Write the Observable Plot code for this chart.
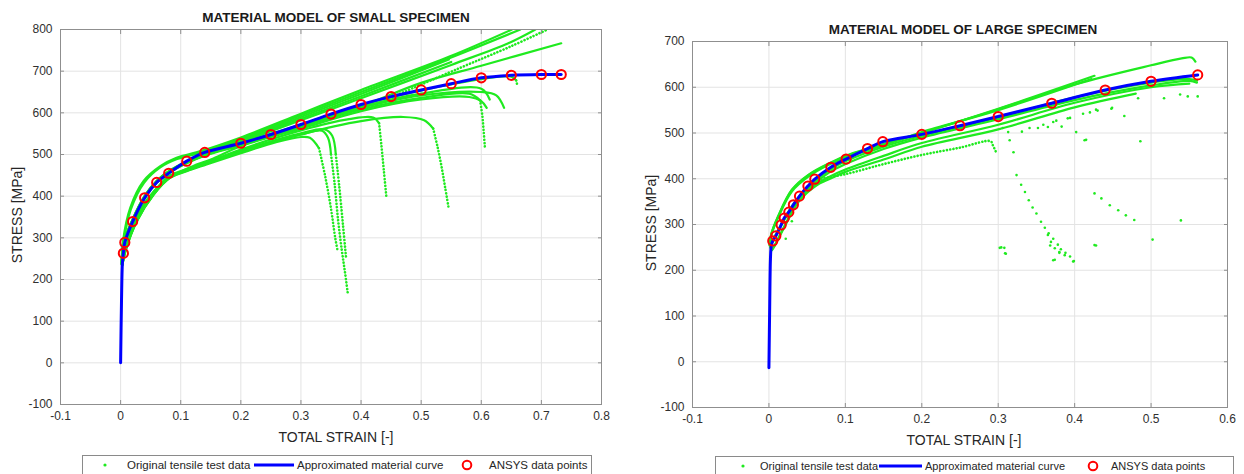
<!DOCTYPE html>
<html>
<head>
<meta charset="utf-8">
<script src="https://cdn.jsdelivr.net/npm/d3@7"></script>
<script src="https://cdn.jsdelivr.net/npm/@observablehq/plot@0.6"></script>
<style>
  html, body { margin: 0; padding: 0; background: #fff; }
  #page { position: relative; width: 1244px; height: 474px; overflow: hidden; font-family: "Liberation Sans", Arial, sans-serif; color: #262626; }
  .abs { position: absolute; }
  .t { position: absolute; transform: translate(-50%, -50%); white-space: nowrap; }
  .title { font-weight: bold; font-size: 13.5px; color: #1a1a1a; }
  .xlab { font-size: 14px; }
  .ylab { font-size: 14px; transform: translate(-50%, -50%) rotate(-90deg); }
  .legend { position: absolute; border: 1px solid #8a8a8a; background: #fff; height: 18px; font-size: 11.5px; }
  .legend > * { position: absolute; top: 0; }
  .legend span { line-height: 18px; white-space: nowrap; }
</style>
</head>
<body>
<div id="page">
  <div id="small" class="abs" style="left:0;top:0"></div>
  <div id="large" class="abs" style="left:620px;top:0"></div>

  <div class="t title" style="left:336px;top:17px">MATERIAL MODEL OF SMALL SPECIMEN</div>
  <div class="t title" style="left:963px;top:29px">MATERIAL MODEL OF LARGE SPECIMEN</div>
  <div class="t xlab" style="left:336px;top:437px">TOTAL STRAIN [-]</div>
  <div class="t xlab" style="left:964px;top:440px">TOTAL STRAIN [-]</div>
  <div class="t ylab" style="left:17px;top:215px">STRESS [MPa]</div>
  <div class="t ylab" style="left:651px;top:223px">STRESS [MPa]</div>

  <div class="legend" style="left:82px;top:455px;width:508px">
    <svg style="left:18px" width="8" height="18"><circle cx="4" cy="9" r="1.6" fill="#1fea1f"/></svg>
    <span style="left:44px">Original tensile test data</span>
    <svg style="left:171px" width="40" height="18"><line x1="0" y1="9" x2="40" y2="9" stroke="#0000ff" stroke-width="3"/></svg>
    <span style="left:214px">Approximated material curve</span>
    <svg style="left:377px" width="14" height="18"><circle cx="7" cy="9" r="4.3" fill="none" stroke="#ff0000" stroke-width="2"/></svg>
    <span style="left:406px">ANSYS data points</span>
  </div>
  <div class="legend" style="left:715px;top:456px;width:517px;font-size:11px">
    <svg style="left:23px" width="8" height="18"><circle cx="4" cy="9" r="1.6" fill="#1fea1f"/></svg>
    <span style="left:44px">Original tensile test data</span>
    <svg style="left:163px" width="43" height="18"><line x1="0" y1="9" x2="43" y2="9" stroke="#0000ff" stroke-width="3"/></svg>
    <span style="left:209px">Approximated material curve</span>
    <svg style="left:370px" width="14" height="18"><circle cx="7" cy="9" r="4.3" fill="none" stroke="#ff0000" stroke-width="2"/></svg>
    <span style="left:395px">ANSYS data points</span>
  </div>
</div>

<script>
// ---------- Small specimen ----------
const smallTicksX = [-0.1, 0, 0.1, 0.2, 0.3, 0.4, 0.5, 0.6, 0.7, 0.8];
const smallTicksY = [-100, 0, 100, 200, 300, 400, 500, 600, 700, 800];

const smallAnsysStrain = [0.0046, 0.007, 0.02, 0.04, 0.06, 0.08, 0.11, 0.14, 0.2, 0.25, 0.3, 0.35, 0.4, 0.45, 0.5, 0.55, 0.6, 0.65, 0.7, 0.733];
const smallAnsysStress = [263, 289, 339, 396, 433, 455, 484, 505, 527, 548, 572, 597, 620, 639, 655, 670, 684, 690, 692, 692];

const smallCurveStrain = [0, 0.0015, 0.003];
const smallCurveStress = [0, 150, 240];

// tensile test records (solid parts)
const smallTests = [
  [[0.002,242],[0.004,292],[0.016,372],[0.038,436],[0.066,472],[0.093,492],[0.126,505],[0.2,541],[0.3,598],[0.4,655],[0.547,735],[0.651,800]],
  [[0.002,240],[0.005,290],[0.017,368],[0.039,432],[0.066,469],[0.094,489],[0.13,503],[0.2,538],[0.3,594],[0.4,650],[0.55,733],[0.665,800]],
  [[0.002,238],[0.005,286],[0.02,345],[0.04,401],[0.06,437],[0.08,460],[0.11,484],[0.14,502],[0.2,535],[0.3,590],[0.4,645],[0.546,728]],
  [[0.002,236],[0.005,285],[0.02,342],[0.04,398],[0.06,435],[0.08,458],[0.11,482],[0.14,500],[0.2,533],[0.3,586],[0.4,640],[0.55,722]],
  [[0.002,238],[0.005,287],[0.02,344],[0.04,400],[0.06,436],[0.08,459],[0.11,482],[0.14,500],[0.2,530],[0.3,582],[0.4,635],[0.55,715],[0.645,767],[0.69,800]],
  [[0.002,236],[0.005,284],[0.02,341],[0.04,397],[0.06,434],[0.08,457],[0.11,480],[0.14,498],[0.2,526],[0.3,570],[0.4,616],[0.5,672],[0.6,713],[0.733,767]],
  [[0.002,237],[0.005,286],[0.02,343],[0.04,399],[0.06,436],[0.08,459],[0.11,483],[0.14,503],[0.2,528],[0.3,572],[0.4,619],[0.5,654],[0.6,681],[0.65,687],[0.658,678]],
  [[0.002,235],[0.005,283],[0.02,340],[0.04,395],[0.06,432],[0.08,455],[0.11,479],[0.14,497],[0.2,522],[0.3,566],[0.4,608],[0.5,636],[0.58,646],[0.598,630]],
  [[0.003,236],[0.006,280],[0.022,338],[0.045,394],[0.07,432],[0.09,452],[0.12,472],[0.15,488],[0.2,520],[0.3,562],[0.4,604],[0.5,632],[0.58,638],[0.6,628],[0.609,612]],
  [[0.002,236],[0.005,284],[0.02,341],[0.04,397],[0.06,434],[0.08,457],[0.11,480],[0.14,498],[0.2,524],[0.3,568],[0.4,612],[0.5,642],[0.6,650],[0.625,642],[0.638,612]],
  [[0.002,237],[0.005,285],[0.02,342],[0.04,398],[0.06,435],[0.08,458],[0.11,481],[0.14,499],[0.2,526],[0.3,570],[0.4,614],[0.5,646],[0.6,658],[0.614,632]],
  [[0.003,235],[0.008,268],[0.027,340],[0.055,404],[0.082,444],[0.11,460],[0.143,476],[0.2,503],[0.26,530],[0.3,542],[0.315,540],[0.33,515]],
  [[0.003,236],[0.008,270],[0.027,342],[0.055,406],[0.082,446],[0.11,462],[0.143,478],[0.2,507],[0.3,548],[0.335,557],[0.345,540],[0.35,500]],
  [[0.003,237],[0.008,272],[0.026,344],[0.054,408],[0.08,448],[0.11,465],[0.143,480],[0.2,509],[0.3,551],[0.34,560],[0.352,545],[0.358,500]],
  [[0.003,236],[0.008,270],[0.027,341],[0.055,405],[0.082,445],[0.11,463],[0.143,481],[0.2,512],[0.3,558],[0.38,585],[0.42,589],[0.43,575]],
  [[0.003,235],[0.008,269],[0.027,340],[0.055,404],[0.082,444],[0.11,461],[0.143,478],[0.2,506],[0.3,548],[0.4,580],[0.47,590],[0.505,582],[0.52,562]]
];

// sparsely sampled parts of the records (fracture tails, one coarse record)
const smallSparse = [
  [[0.46,643],[0.56,705],[0.65,760],[0.71,800]],
  [[0.598,630],[0.602,590],[0.604,555],[0.606,517]],
  [[0.658,678],[0.66,666]],
  [[0.33,515],[0.34,450],[0.35,370],[0.357,300],[0.361,269]],
  [[0.35,500],[0.356,430],[0.362,340],[0.368,270],[0.373,220],[0.378,166]],
  [[0.358,500],[0.364,420],[0.37,330],[0.375,253]],
  [[0.43,575],[0.434,520],[0.438,460],[0.442,400]],
  [[0.52,562],[0.527,520],[0.534,470],[0.54,420],[0.546,369]]
];

// ---------- Large specimen ----------
const largeTicksX = [-0.1, 0, 0.1, 0.2, 0.3, 0.4, 0.5, 0.6];
const largeTicksY = [-100, 0, 100, 200, 300, 400, 500, 600, 700];

const largeAnsysStrain = [0.005, 0.009, 0.016, 0.02, 0.026, 0.032, 0.04, 0.051, 0.06, 0.081, 0.101, 0.129, 0.149, 0.2, 0.25, 0.3, 0.37, 0.44, 0.5, 0.561];
const largeAnsysStress = [264, 275, 299, 314, 327, 343, 362, 384, 399, 425, 443, 466, 481, 497, 516, 536, 565, 594, 613, 627];

const largeCurveStrain = [0, 0.001, 0.002, 0.003];
const largeCurveStress = [-13, 120, 225, 252];

const largeTests = [
  [[0.001,255],[0.003,278],[0.012,317],[0.03,375],[0.052,408],[0.079,433],[0.11,455],[0.146,473],[0.2,500],[0.3,552],[0.4,606],[0.5,648],[0.54,663],[0.553,665],[0.558,656]],
  [[0.001,254],[0.003,276],[0.012,315],[0.03,372],[0.052,405],[0.079,431],[0.11,452],[0.146,471],[0.2,502],[0.3,550],[0.422,618]],
  [[0.001,256],[0.003,279],[0.012,318],[0.03,376],[0.052,409],[0.079,434],[0.11,456],[0.146,474],[0.2,500],[0.3,553],[0.426,625]],
  [[0.002,250],[0.005,265],[0.016,300],[0.032,345],[0.051,382],[0.08,420],[0.1,438],[0.15,470],[0.2,494],[0.3,534],[0.4,578],[0.5,610],[0.55,618],[0.56,614]],
  [[0.002,249],[0.005,263],[0.016,298],[0.032,342],[0.051,378],[0.08,415],[0.1,432],[0.15,465],[0.2,490],[0.3,530],[0.4,572],[0.5,604],[0.55,614],[0.56,610]],
  [[0.004,245],[0.008,256],[0.021,299],[0.039,354],[0.061,387],[0.08,405],[0.1,420],[0.15,450],[0.2,478],[0.3,518],[0.4,566],[0.5,600],[0.55,608]],
  [[0.004,244],[0.008,255],[0.021,297],[0.039,350],[0.061,384],[0.08,400],[0.1,415],[0.15,442],[0.2,470],[0.3,508],[0.4,556],[0.48,586]]
];

const largeSparse = [
  [[0.06,398],[0.1,410],[0.15,432],[0.2,452],[0.25,468],[0.29,482],[0.293,473],[0.298,455]]
];

const largeScatterStrain = [0.022, 0.03, 0.306, 0.313, 0.315, 0.32, 0.324, 0.33, 0.335, 0.34, 0.345, 0.35, 0.356, 0.361, 0.365, 0.369, 0.374, 0.38, 0.387, 0.398, 0.372, 0.302, 0.309, 0.331, 0.341, 0.352, 0.359, 0.365, 0.372, 0.376, 0.383, 0.391, 0.402, 0.413, 0.411, 0.42, 0.43, 0.448, 0.465, 0.426, 0.435, 0.446, 0.457, 0.467, 0.478, 0.426, 0.449, 0.483, 0.486, 0.517, 0.538, 0.548, 0.561, 0.539, 0.415, 0.394, 0.428, 0.304, 0.308, 0.31, 0.366, 0.368, 0.372, 0.374, 0.378, 0.382, 0.38, 0.388, 0.394, 0.399, 0.428, 0.502];
const largeScatterStress = [269, 307, 511, 502, 484, 458, 408, 387, 371, 353, 337, 324, 306, 293, 277, 262, 248, 238, 233, 219, 222, 249, 237, 503, 511, 511, 518, 513, 524, 527, 514, 532, 502, 484, 542, 545, 549, 553, 537, 368, 357, 342, 331, 320, 310, 255, 555, 576, 482, 576, 584, 580, 580, 309, 485, 533, 551, 250, 249, 236, 281, 254, 269, 223, 256, 246, 240, 238, 230, 220, 254, 267];

// ---------- drawing ----------
const GREEN = "#1fea1f";
const toRows = (curves) => curves.flatMap((c, i) => c.map(([x, y]) => ({id: i, x, y})));
const zipRows = (xs, ys) => xs.map((x, i) => ({x, y: ys[i]}));

function panel({ticksX, ticksY, width, margins, tests, sparse, curve, ansys, scatter}) {
  const fmt = (d) => String(d);
  return Plot.plot({
    width, height: 450,
    marginLeft: margins[0], marginRight: margins[1], marginTop: margins[2], marginBottom: margins[3],
    x: {domain: [ticksX[0], ticksX[ticksX.length - 1]]},
    y: {domain: [ticksY[0], ticksY[ticksY.length - 1]]},
    style: {fontFamily: "'Liberation Sans', Arial, sans-serif", fontSize: "12px", color: "#303030", background: "transparent", overflow: "visible"},
    marks: [
      Plot.gridX(ticksX, {stroke: "#e3e3e3", strokeOpacity: 1}),
      Plot.gridY(ticksY, {stroke: "#e3e3e3", strokeOpacity: 1}),
      Plot.line(toRows(tests), {x: "x", y: "y", z: "id", stroke: GREEN, strokeWidth: 2.2, curve: "catmull-rom", clip: true}),
      Plot.line(toRows(sparse), {x: "x", y: "y", z: "id", stroke: GREEN, strokeWidth: 2.6, strokeDasharray: "0.1 3.2", strokeLinecap: "round", curve: "catmull-rom", clip: true}),
      scatter ? Plot.dot(scatter, {x: "x", y: "y", r: 1.3, fill: GREEN, stroke: null}) : null,
      Plot.line(curve, {x: "x", y: "y", stroke: "#0000ff", strokeWidth: 3, curve: "catmull-rom"}),
      Plot.dot(ansys, {x: "x", y: "y", r: 4.6, stroke: "#ff0000", strokeWidth: 2, fill: "none"}),
      Plot.frame({stroke: "#8f8f8f"}),
      Plot.axisX(ticksX, {anchor: "bottom", tickSize: -4, tickFormat: () => "", label: null, stroke: "#8f8f8f"}),
      Plot.axisX(ticksX, {anchor: "top", tickSize: -4, tickFormat: () => "", label: null, stroke: "#8f8f8f"}),
      Plot.axisY(ticksY, {anchor: "left", tickSize: -4, tickFormat: () => "", label: null, stroke: "#8f8f8f"}),
      Plot.axisY(ticksY, {anchor: "right", tickSize: -4, tickFormat: () => "", label: null, stroke: "#8f8f8f"}),
      Plot.axisX(ticksX, {anchor: "bottom", tickSize: 0, tickPadding: 7, tickFormat: fmt, label: null}),
      Plot.axisY(ticksY, {anchor: "left", tickSize: 0, tickPadding: 8, tickFormat: fmt, label: null})
    ]
  });
}

const smallAnsys = zipRows(smallAnsysStrain, smallAnsysStress);
const smallCurve = zipRows(smallCurveStrain, smallCurveStress).concat(smallAnsys);
document.getElementById("small").append(panel({
  ticksX: smallTicksX, ticksY: smallTicksY, width: 620, margins: [60, 19, 29, 46],
  tests: smallTests, sparse: smallSparse, curve: smallCurve, ansys: smallAnsys
}));

const largeAnsys = zipRows(largeAnsysStrain, largeAnsysStress);
const largeCurve = zipRows(largeCurveStrain, largeCurveStress).concat(largeAnsys);
document.getElementById("large").append(panel({
  ticksX: largeTicksX, ticksY: largeTicksY, width: 624, margins: [72, 17, 41, 43],
  tests: largeTests, sparse: largeSparse, curve: largeCurve, ansys: largeAnsys,
  scatter: zipRows(largeScatterStrain, largeScatterStress)
}));
</script>
</body>
</html>
